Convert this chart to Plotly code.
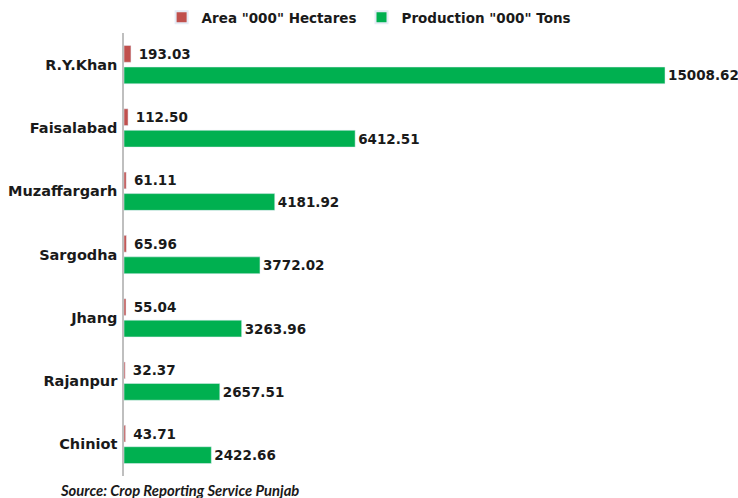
import plotly.graph_objects as go

districts = ["R.Y.Khan", "Faisalabad", "Muzaffargarh", "Sargodha", "Jhang", "Rajanpur", "Chiniot"]
area_000_ha = [193.03, 112.50, 61.11, 65.96, 55.04, 32.37, 43.71]
production_000_t = [15008.62, 6412.51, 4181.92, 3772.02, 3263.96, 2657.51, 2422.66]

FONT = "DejaVu Sans"
INK = "#1a1a1a"
RED = "#c0504d"
GREEN = "#00b050"

label_font = dict(family=FONT, size=13.5, color=INK, weight="bold")

fig = go.Figure()
fig.add_trace(go.Bar(
    y=districts, x=area_000_ha, orientation="h",
    name='Area "000" Hectares', marker_color=RED,
    texttemplate="\u00a0%{x:.2f}", textposition="outside",
    textfont=label_font, cliponaxis=False, constraintext="none",
))
fig.add_trace(go.Bar(
    y=districts, x=production_000_t, orientation="h",
    name='Production "000" Tons', marker_color=GREEN,
    texttemplate="%{x:.2f}", textposition="outside",
    textfont=label_font, cliponaxis=False, constraintext="none",
))

fig.update_layout(
    width=738, height=498,
    margin=dict(l=124, r=10, t=33, b=22, autoexpand=False),
    paper_bgcolor="white", plot_bgcolor="white",
    barmode="group", bargap=0.32, bargroupgap=0.22,
    font=dict(family=FONT, color=INK),
    showlegend=True,
    legend=dict(
        orientation="h", x=0.405, xanchor="center", y=1.0, yanchor="bottom",
        font=dict(family=FONT, size=13.5, color=INK, weight="bold"),
        itemsizing="constant", itemwidth=30, traceorder="normal",
    ),
    annotations=[dict(
        text="<b><i>Source: Crop Reporting Service Punjab</i></b>",
        xref="paper", yref="paper", x=-0.109, y=-0.032,
        xanchor="left", yanchor="middle", showarrow=False,
        font=dict(family="Lato", size=14.8, color=INK),
    )],
)

fig.update_xaxes(
    range=[0, 16756], showgrid=False, zeroline=False,
    showticklabels=False, ticks="", showline=False,
)
fig.update_yaxes(
    autorange="reversed", showgrid=False, ticks="",
    showline=True, linecolor="#bfbfbf", linewidth=1.5,
    tickfont=dict(family=FONT, size=14.5, color=INK, weight="bold"),
    ticklabelstandoff=2,
)

fig.write_html("out.html")
